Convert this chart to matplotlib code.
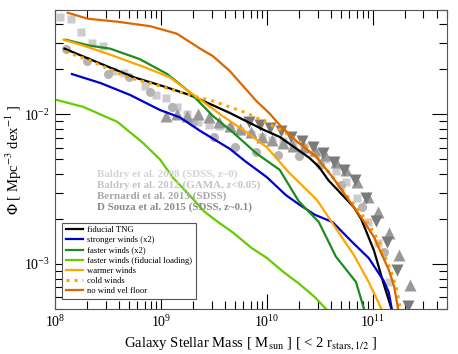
import numpy as np
import matplotlib
matplotlib.use("Agg")
import matplotlib.pyplot as plt
from matplotlib.ticker import NullFormatter

plt.rcParams['font.family'] = 'Liberation Serif'
plt.rcParams['mathtext.fontset'] = 'stix'

# --- observations (log10 M*, log10 Phi) ---
baldry08_m = [8.05, 8.15, 8.25, 8.35, 8.45, 8.55, 8.65, 8.85, 8.95, 9.05, 9.15, 9.25, 9.35, 9.45,
              9.55, 9.65, 9.75, 9.85, 9.95, 10.05, 10.15, 10.25, 10.35, 10.45, 10.55, 10.65,
              10.75, 10.85, 10.95, 11.05, 11.15]
baldry08_phi = [-1.35, -1.36, -1.45, -1.52, -1.54, -1.71, -1.72, -1.81, -1.87, -1.89, -1.95, -2.0,
                -2.05, -2.07, -2.08, -2.09, -2.11, -2.13, -2.15, -2.17, -2.18, -2.2, -2.22, -2.26,
                -2.3, -2.38, -2.45, -2.56, -2.72, -2.86, -3.12]

baldry12_m = [8.1, 8.3, 8.5, 8.7, 8.9, 9.1, 9.3, 9.5, 9.7, 9.9, 10.1, 10.3, 10.5, 10.7, 10.9, 11.1]
baldry12_phi = [-1.56, -1.64, -1.73, -1.75, -1.85, -1.95, -2.05, -2.15, -2.22, -2.25, -2.27, -2.28,
                -2.34, -2.47, -2.62, -2.92]

bernardi_m = [9.05, 9.15, 9.25, 9.35, 9.45, 9.55, 9.65, 9.75, 9.85, 9.95, 10.05, 10.15, 10.25,
              10.35, 10.45, 10.55, 10.65, 10.75, 10.85, 10.95, 11.05, 11.15, 11.25, 11.35]
bernardi_phi = [-2.01, -2.0, -2.01, -2.0, -2.02, -2.05, -2.08, -2.1, -2.12, -2.15, -2.17, -2.19,
                -2.21, -2.22, -2.24, -2.27, -2.32, -2.37, -2.45, -2.55, -2.65, -2.79, -2.94, -3.14]

dsouza_m = [9.83, 9.93, 10.03, 10.13, 10.23, 10.33, 10.43, 10.53, 10.63, 10.73, 10.83, 10.93,
            11.03, 11.13, 11.23, 11.33]
dsouza_phi = [-2.05, -2.07, -2.09, -2.11, -2.15, -2.18, -2.22, -2.26, -2.32, -2.37, -2.44, -2.56,
              -2.71, -2.85, -3.04, -3.28]

# --- simulations ---
fid_m = [8.09, 8.43, 8.74, 9.06, 9.27, 9.37, 9.65, 9.96, 10.12, 10.40, 10.49, 10.58, 10.82, 10.89,
         11.01, 11.10, 11.18]
fid_phi = [-1.56, -1.66, -1.75, -1.82, -1.87, -1.90, -1.99, -2.10, -2.15, -2.29, -2.35, -2.44,
           -2.62, -2.70, -2.91, -3.13, -3.31]

strong_m = [8.16, 8.43, 8.71, 8.99, 9.18, 9.37, 9.65, 9.79, 10.0, 10.18, 10.30, 10.45, 10.62,
            10.80, 10.96, 11.10, 11.15, 11.18]
strong_phi = [-1.73, -1.79, -1.87, -1.97, -2.02, -2.11, -2.23, -2.31, -2.42, -2.54, -2.60, -2.67,
              -2.72, -2.85, -2.96, -3.11, -3.19, -3.31]

fast_m = [8.10, 8.33, 8.52, 8.80, 9.06, 9.27, 9.49, 9.68, 9.90, 10.12, 10.30, 10.49, 10.65,
          10.84, 10.92]
fast_phi = [-1.50, -1.54, -1.56, -1.63, -1.73, -1.85, -2.01, -2.12, -2.26, -2.37, -2.58, -2.72,
            -2.95, -3.12, -3.31]

fastfid_m = [8.0, 8.27, 8.59, 8.83, 8.99, 9.11, 9.27, 9.41, 9.54, 9.68, 9.85, 10.0, 10.15,
             10.30, 10.45, 10.57]
fastfid_phi = [-1.90, -1.95, -2.05, -2.19, -2.30, -2.42, -2.54, -2.65, -2.72, -2.79, -2.89,
               -2.96, -3.05, -3.13, -3.22, -3.31]

warm_m = [8.08, 8.27, 8.52, 8.83, 9.08, 9.27, 9.37, 9.58, 9.81, 10.0, 10.21, 10.47, 10.63,
          10.82, 10.96, 11.08]
warm_phi = [-1.50, -1.54, -1.60, -1.68, -1.75, -1.85, -1.90, -2.01, -2.12, -2.22, -2.39, -2.57,
            -2.74, -2.94, -3.12, -3.30]

cold_m = [8.10, 8.33, 8.68, 8.99, 9.27, 9.49, 9.81, 10.12, 10.37, 10.49, 10.62, 10.84, 10.93,
          11.05, 11.15, 11.22, 11.26]
cold_phi = [-1.58, -1.64, -1.75, -1.81, -1.87, -1.91, -1.99, -2.10, -2.21, -2.30, -2.42, -2.62,
            -2.70, -2.84, -3.01, -3.15, -3.31]

nofloor_m = [8.12, 8.31, 8.59, 8.90, 9.15, 9.37, 9.49, 9.65, 9.90, 10.02, 10.12, 10.28, 10.46,
             10.62, 10.82, 10.90, 11.01, 11.15, 11.20, 11.24]
nofloor_phi = [-1.32, -1.36, -1.38, -1.41, -1.46, -1.56, -1.61, -1.71, -1.91, -1.99, -2.07, -2.18,
               -2.28, -2.42, -2.62, -2.70, -2.82, -3.04, -3.15, -3.31]

fig = plt.figure(figsize=(4.58, 3.54), dpi=100)
ax = fig.add_axes([0.120, 0.127, 0.856, 0.845])

def p(x):
    return 10 ** np.array(x)

ax.plot(p(baldry08_m), p(baldry08_phi), 's', color='#cccccc', ms=5.5, mec='none')
ax.plot(p(baldry12_m), p(baldry12_phi), 'o', color='#b4b4b4', ms=6.5, mec='none')
ax.plot(p(bernardi_m), p(bernardi_phi), '^', color='#999999', ms=8, mec='none')
ax.plot(p(dsouza_m), p(dsouza_phi), 'v', color='#7a7a7a', ms=8, mec='none')

lw = 1.6
ax.plot(p(fid_m), p(fid_phi), '-', color='black', lw=lw, label='fiducial TNG')
ax.plot(p(strong_m), p(strong_phi), '-', color='#0000cc', lw=lw, label='stronger winds (x2)')
ax.plot(p(fast_m), p(fast_phi), '-', color='#1f8a1f', lw=lw, label='faster winds (x2)')
ax.plot(p(fastfid_m), p(fastfid_phi), '-', color='#66cc00', lw=lw,
        label='faster winds (fiducial loading)')
ax.plot(p(warm_m), p(warm_phi), '-', color='#ffa500', lw=lw, label='warmer winds')
ax.plot(p(cold_m), p(cold_phi), ':', color='#ffa500', lw=2.2, label='cold winds')
ax.plot(p(nofloor_m), p(nofloor_phi), '-', color='#dd6600', lw=lw, label='no wind vel floor')

ax.set_xscale('log')
ax.set_yscale('log')
ax.set_xlim(1e8, 5e11)
ax.set_ylim(5e-4, 5e-2)

ax.yaxis.set_minor_formatter(NullFormatter())
ax.tick_params(which='both', direction='in', top=True, right=True, labelsize=10)
ax.tick_params(which='major', length=11, width=0.8)
ax.tick_params(which='minor', length=6, width=0.8)
for s in ax.spines.values():
    s.set_color('#555555')

ax.set_xlabel(r'Galaxy Stellar Mass [ M$_{\rm sun}$ ] [ < 2 r$_{\rm stars,1/2}$ ]', fontsize=10.5)
ax.set_ylabel(r'$\Phi$ [ Mpc$^{-3}$ dex$^{-1}$ ]', fontsize=10.5)
ax.yaxis.set_label_coords(-0.08, 0.5)

obs_labels = ['Baldry et al. 2008 (SDSS, z~0)', 'Baldry et al. 2012 (GAMA, z<0.05)',
              'Bernardi et al. 2013 (SDSS)', 'D Souza et al. 2015 (SDSS, z~0.1)']
obs_colors = ['#d4d4d4', '#c4c4c4', '#a8a8a8', '#8a8a8a']
for i, (t, c) in enumerate(zip(obs_labels, obs_colors)):
    ax.text(0.107, 0.452 - i * 0.037, t, transform=ax.transAxes, fontsize=7.9,
            fontweight='bold', color=c, va='center')

leg = ax.legend(loc='lower left', bbox_to_anchor=(0.008, 0.02), fontsize=6.2,
                handlelength=2.0, handletextpad=0.5, labelspacing=0.25, borderpad=0.4,
                fancybox=False, edgecolor='#555555', framealpha=1)
leg.get_frame().set_linewidth(0.8)

fig.savefig('out.png', dpi=100)
